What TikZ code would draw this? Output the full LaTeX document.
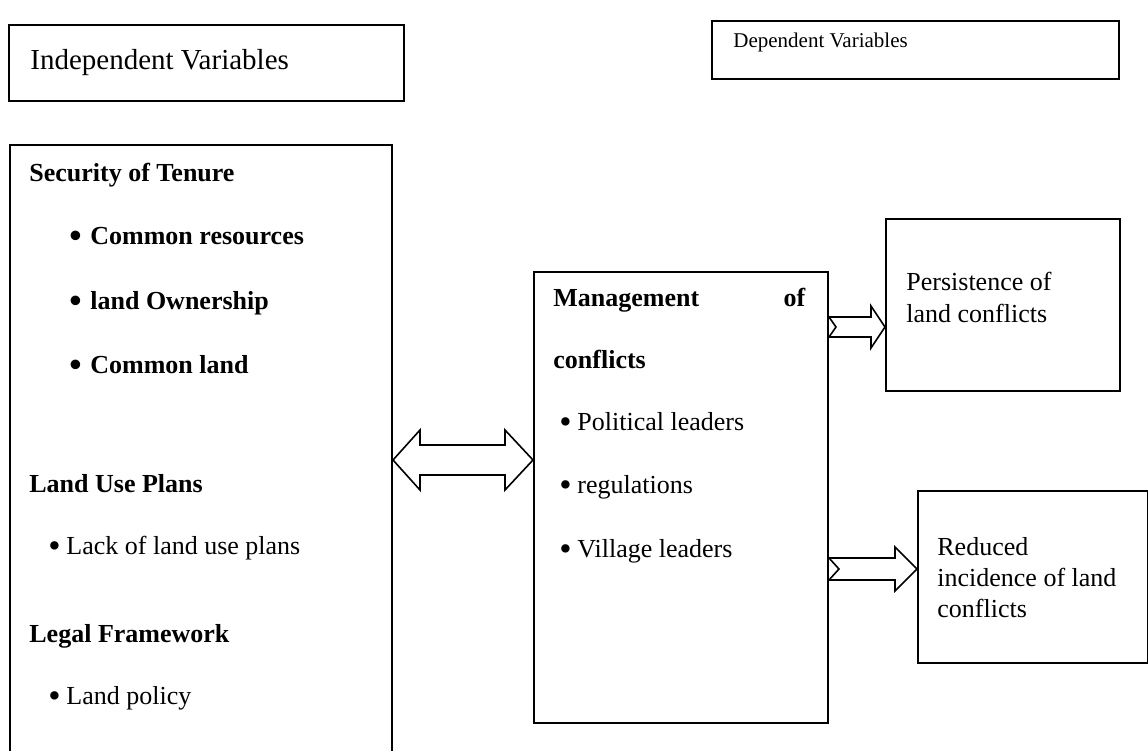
\documentclass[tikz,border=0pt]{standalone}
\usepackage{fontspec}
\setmainfont{Liberation Serif}
\usetikzlibrary{calc}
\newcommand{\blt}[1]{\makebox[#1][l]{\raisebox{-0.28ex}{\scalebox{1.35}{\textbullet}}}}

\begin{document}
\begin{tikzpicture}[x=0.5pt, y=-0.5pt,
	box/.style={draw, line width=1pt, inner sep=0pt, anchor=north west},
	txt/.style={anchor=base west, inner sep=0pt, font=\fontsize{13}{15}\selectfont},
	btxt/.style={txt, font=\fontsize{13}{15}\selectfont\bfseries},
	blockarrow/.style={draw, line width=0.8pt, fill=white, line join=miter}]
	\clip (0,0) rectangle (1148,751);
	\node[box, minimum width=197.5pt, minimum height=38pt] (indep) at (8,24) {};
	\node[box, minimum width=203.5pt, minimum height=29pt] (dep) at (711,20) {};
	\node[box, minimum width=191pt, minimum height=320pt] (tenure) at (9,144) {};
	\node[box, minimum width=147pt, minimum height=225.5pt] (mgmt) at (533,271) {};
	\node[box, minimum width=117pt, minimum height=86pt] (persist) at (885,218) {};
	\node[box, minimum width=115pt, minimum height=86pt] (reduced) at (917,490) {};

	\node[txt, font=\fontsize{14.5}{17}\selectfont] (indeplabel) at (30,69) {Independent Variables};
	\node[txt, font=\fontsize{10.5}{13}\selectfont] (deplabel) at (733,47) {Dependent Variables};

	\node[btxt] (sec) at (29,181) {Security of Tenure};
	\node[btxt] (sec1) at (69,244) {\blt{10.5pt}Common resources};
	\node[btxt] (sec2) at (69,309) {\blt{10.5pt}land Ownership};
	\node[btxt] (sec3) at (69,373) {\blt{10.5pt}Common land};
	\node[btxt] (lup) at (29,492) {Land Use Plans};
	\node[txt] (lup1) at (48,554) {\blt{9pt}Lack of land use plans};
	\node[btxt] (legal) at (29,642) {Legal Framework};
	\node[txt] (legal1) at (48,704) {\blt{9pt}Land policy};

	\node[btxt] (mgmt1) at (553,306) {\makebox[126pt][s]{Management of}};
	\node[btxt] (mgmt2) at (553,368) {conflicts};
	\node[txt] (mgmt3) at (559,430) {\blt{9pt}Political leaders};
	\node[txt] (mgmt4) at (559,493) {\blt{9pt}regulations};
	\node[txt] (mgmt5) at (559,557) {\blt{9pt}Village leaders};

	\node[txt] (pers1) at (906,290) {Persistence of};
	\node[txt] (pers2) at (906,322) {land conflicts};
	\node[txt] (red1) at (937,555) {Reduced};
	\node[txt] (red2) at (937,586) {incidence of land};
	\node[txt] (red3) at (937,617) {conflicts};

	\draw[blockarrow] (tenure.east |- 0,460) -- (420,430) -- (420,445) -- (505,445) -- (505,430)
		-- (mgmt.west |- 0,460) -- (505,490) -- (505,475) -- (420,475) -- (420,490) -- cycle;
	\draw[blockarrow] (mgmt.east |- 0,317) -- (871,317) -- (871,306) -- (persist.west |- 0,327)
		-- (871,348) -- (871,337) -- (mgmt.east |- 0,337) -- ++(7,-10) -- cycle;
	\draw[blockarrow] (mgmt.east |- 0,558) -- (895,558) -- (895,547) -- (reduced.west |- 0,569)
		-- (895,591) -- (895,580) -- (mgmt.east |- 0,580) -- ++(10,-11) -- cycle;
\end{tikzpicture}
\end{document}
